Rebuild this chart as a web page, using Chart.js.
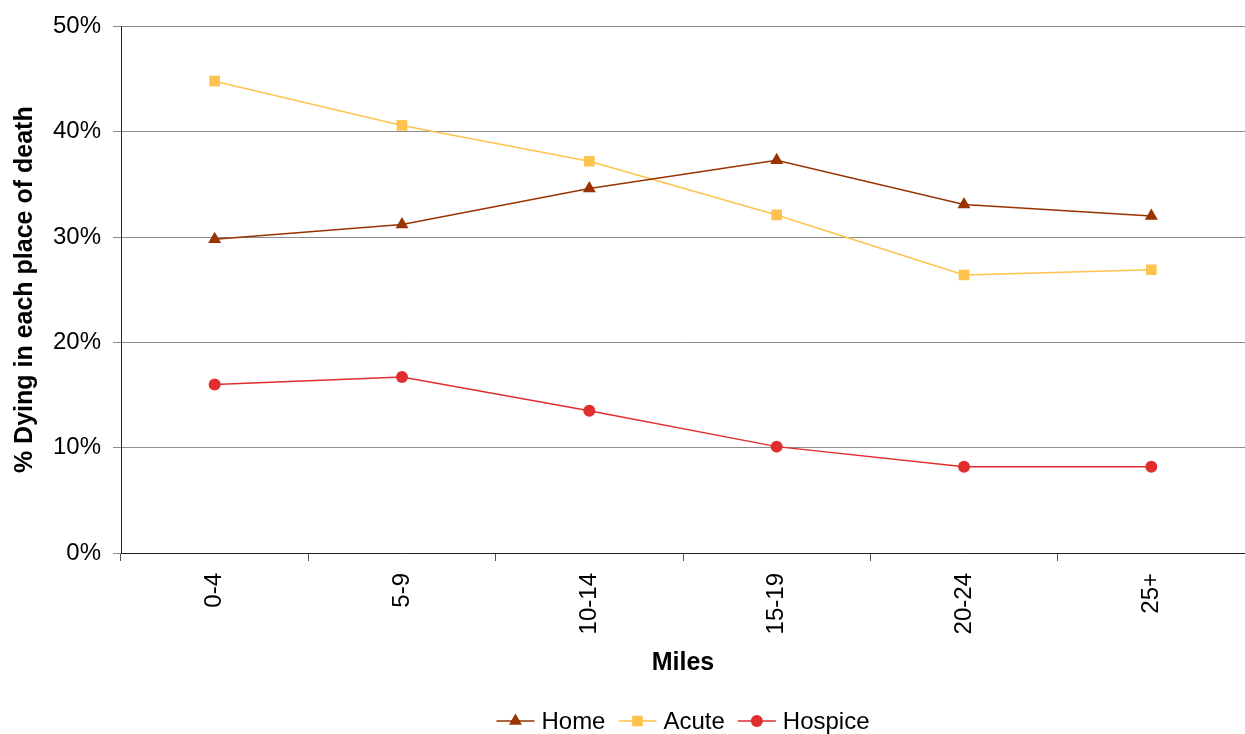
<!DOCTYPE html>
<html>
<head>
<meta charset="utf-8">
<title>Place of death by distance</title>
<script src="https://cdn.jsdelivr.net/npm/chart.js@4/dist/chart.umd.min.js"></script>
<style>
  html, body { margin: 0; padding: 0; background: #fff; }
  canvas { display: block; }
</style>
</head>
<body>
<canvas id="chart" width="1245" height="734"></canvas>
<script>
// Distance bands (miles) and share of deaths in each place, in percent
const categories = ['0-4', '5-9', '10-14', '15-19', '20-24', '25+'];
const homePct = [29.8, 31.2, 34.6, 37.3, 33.1, 32.0];
const acutePct = [44.8, 40.6, 37.2, 32.1, 26.4, 26.9];
const hospicePct = [16.0, 16.7, 13.5, 10.1, 8.2, 8.2];
const yTickValues = [0, 10, 20, 30, 40, 50];

const FONT = '"Liberation Sans", Arial, sans-serif';
Chart.defaults.font.family = FONT;
Chart.defaults.color = '#000';

function series(label, data, color, style, radius) {
  return {
    label, data,
    borderColor: color, backgroundColor: color,
    pointBackgroundColor: color, pointBorderColor: color,
    borderWidth: 1.5, pointBorderWidth: 0,
    pointStyle: style, pointRadius: radius, pointHoverRadius: radius,
    tension: 0, fill: false
  };
}

// Small marker painter used by the line-and-marker legend
function marker(ctx, style, r, x, y) {
  ctx.beginPath();
  if (style === 'triangle') {
    ctx.moveTo(x, y - r);
    ctx.lineTo(x + r * Math.sqrt(3) / 2, y + r / 2);
    ctx.lineTo(x - r * Math.sqrt(3) / 2, y + r / 2);
    ctx.closePath();
  } else if (style === 'rect') {
    const h = r * Math.SQRT1_2;
    ctx.rect(x - h, y - h, 2 * h, 2 * h);
  } else {
    ctx.arc(x, y, r, 0, Math.PI * 2);
  }
  ctx.fill();
}

const lineLegend = {
  id: 'lineLegend',
  afterDraw(chart) {
    const ctx = chart.ctx;
    const lineLen = 38, textGap = 7, itemGap = 13, y = 721;
    ctx.save();
    ctx.font = '24px ' + FONT;
    ctx.textBaseline = 'middle';
    const items = chart.data.datasets.map(ds => ({
      ds, w: lineLen + textGap + ctx.measureText(ds.label).width
    }));
    const total = items.reduce((s, it) => s + it.w, 0) + itemGap * (items.length - 1);
    let x = (chart.chartArea.left + chart.chartArea.right) / 2 - total / 2;
    items.forEach(({ ds, w }) => {
      ctx.strokeStyle = ds.borderColor;
      ctx.lineWidth = ds.borderWidth;
      ctx.beginPath();
      ctx.moveTo(x, y);
      ctx.lineTo(x + lineLen, y);
      ctx.stroke();
      ctx.fillStyle = ds.pointBackgroundColor;
      marker(ctx, ds.pointStyle, ds.pointRadius, x + lineLen / 2, y);
      ctx.fillStyle = '#000';
      ctx.textAlign = 'left';
      ctx.fillText(ds.label, x + lineLen + textGap, y + 1);
      x += w + itemGap;
    });
    ctx.restore();
  }
};

new Chart(document.getElementById('chart'), {
  type: 'line',
  data: {
    labels: categories,
    datasets: [
      series('Home', homePct, '#993300', 'triangle', 7.5),
      series('Acute', acutePct, '#FFC34D', 'rect', 7.5),
      series('Hospice', hospicePct, '#E02D2D', 'circle', 6)
    ]
  },
  options: {
    responsive: false,
    animation: false,
    layout: { autoPadding: false, padding: { top: 25, right: 0, bottom: 50, left: 0 } },
    plugins: { legend: { display: false }, tooltip: { enabled: false } },
    scales: {
      x: {
        offset: true,
        grid: { offset: true, drawOnChartArea: false, drawTicks: true, tickLength: 8, color: '#555' },
        border: { color: '#222', width: 1 },
        ticks: { minRotation: 90, maxRotation: 90, padding: 12, font: { size: 24 }, color: '#000' },
        title: {
          display: true, text: 'Miles', color: '#000',
          font: { size: 25, weight: 'bold' }, padding: { top: 0, bottom: 6 }
        },
        afterFit(scale) {
          scale.height = 131;
          scale.paddingLeft = 0;
          scale.paddingRight = 0;
        }
      },
      y: {
        min: 0, max: 50,
        afterBuildTicks(scale) { scale.ticks = yTickValues.map(v => ({ value: v })); },
        ticks: { callback: v => v + '%', padding: 12, font: { size: 24 }, color: '#000' },
        grid: { color: '#8c8c8c', lineWidth: 1, drawTicks: true, tickLength: 8 },
        border: { color: '#222', width: 1 },
        title: {
          display: true, text: '% Dying in each place of death', color: '#000',
          font: { size: 25, weight: 'bold' }, padding: { top: 10, bottom: 0 }
        },
        afterFit(scale) { scale.width = 121; }
      }
    }
  },
  plugins: [lineLegend]
});
</script>
</body>
</html>
